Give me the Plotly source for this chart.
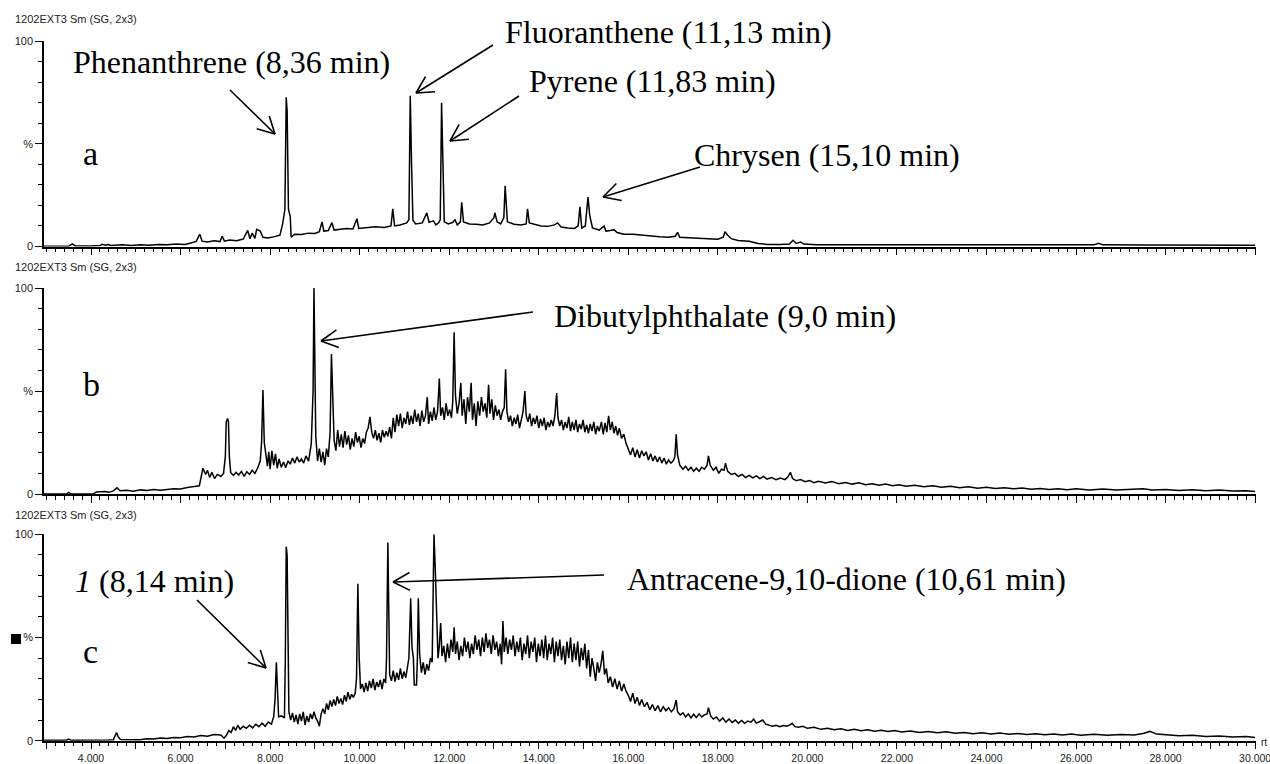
import math
import plotly.graph_objects as go

# ---------------- data ----------------
# panel a: (retention time [min], relative intensity [%])
points_a = [
    (2.95, 0.1), (3.50, 0.1), (3.58, 1.3), (3.65, 0.3), (4.00, 0.3), (4.20, 0.5), (4.25, 1.1),
    (4.32, 0.6), (4.38, 1.0), (4.45, 0.5), (4.70, 0.8), (4.90, 0.5), (5.10, 0.9), (5.30, 0.6),
    (5.50, 1.0), (5.70, 0.8), (5.90, 1.2), (6.10, 1.0), (6.25, 1.8), (6.35, 2.5), (6.43, 6.0),
    (6.48, 2.6), (6.60, 2.2), (6.75, 2.8), (6.88, 2.4), (6.93, 5.0), (6.98, 2.6), (7.10, 3.2),
    (7.25, 2.8), (7.40, 3.6), (7.50, 7.8), (7.55, 3.8), (7.60, 6.5), (7.66, 4.0), (7.70, 8.3),
    (7.78, 7.5), (7.84, 4.5), (7.95, 4.2), (8.10, 4.8), (8.22, 5.5), (8.28, 11.0), (8.33, 18.0),
    (8.36, 72.6), (8.38, 66.0), (8.41, 18.0), (8.45, 14.6), (8.47, 4.5), (8.55, 6.0), (8.70, 5.8),
    (8.85, 6.5), (9.00, 6.3), (9.10, 7.2), (9.16, 12.0), (9.20, 7.5), (9.30, 7.8), (9.38, 11.6),
    (9.43, 8.0), (9.55, 8.2), (9.70, 8.8), (9.85, 8.5), (9.94, 13.5), (9.98, 8.8), (10.15, 9.0),
    (10.35, 9.6), (10.55, 9.3), (10.70, 10.0), (10.74, 18.3), (10.78, 10.0), (10.90, 10.5),
    (11.05, 11.5), (11.10, 13.0), (11.13, 73.4), (11.16, 40.0), (11.19, 12.8), (11.25, 11.0),
    (11.40, 11.5), (11.50, 16.4), (11.55, 11.8), (11.65, 12.5), (11.70, 10.5), (11.76, 11.5),
    (11.80, 13.0), (11.83, 69.9), (11.86, 30.0), (11.89, 12.0), (11.98, 11.0), (12.08, 11.8),
    (12.13, 13.0), (12.18, 10.5), (12.25, 12.0), (12.28, 21.5), (12.32, 12.0), (12.45, 11.0),
    (12.60, 10.8), (12.75, 10.5), (12.90, 11.5), (13.00, 14.0), (13.02, 16.4), (13.07, 12.0),
    (13.15, 11.0), (13.22, 14.0), (13.25, 29.5), (13.30, 12.0), (13.45, 10.8), (13.60, 10.5),
    (13.72, 11.0), (13.75, 18.3), (13.79, 11.5), (13.90, 10.8), (14.05, 10.0), (14.20, 9.8),
    (14.35, 10.5), (14.42, 11.5), (14.50, 9.5), (14.65, 9.0), (14.80, 8.8), (14.88, 10.0),
    (14.92, 19.3), (14.96, 9.0), (15.04, 10.0), (15.10, 24.0), (15.14, 15.0), (15.20, 9.0),
    (15.35, 8.0), (15.46, 10.0), (15.50, 7.5), (15.60, 7.8), (15.68, 8.2), (15.75, 6.8),
    (15.90, 6.0), (16.10, 6.0), (16.30, 5.5), (16.50, 5.0), (16.70, 4.8), (16.90, 4.5),
    (17.05, 5.0), (17.10, 6.9), (17.15, 4.5), (17.35, 4.2), (17.60, 3.8), (17.80, 3.6),
    (18.00, 3.5), (18.12, 4.5), (18.16, 7.2), (18.22, 5.5), (18.30, 3.8), (18.45, 2.9),
    (18.70, 2.5), (18.90, 1.5), (19.10, 1.0), (19.40, 1.0), (19.60, 1.2), (19.68, 3.0),
    (19.75, 1.5), (19.85, 2.2), (19.92, 1.2), (20.20, 0.9), (20.60, 0.9), (21.00, 0.8),
    (22.00, 0.8), (23.00, 0.7), (24.00, 0.7), (25.00, 0.7), (26.00, 0.7), (26.40, 0.8),
    (26.50, 1.6), (26.60, 0.8), (27.50, 0.7), (28.50, 0.7), (30.00, 0.6),
]

points_b = [
    (2.95, 0.0), (3.45, 0.0), (3.50, 0.8), (3.55, 0.0), (4.05, 0.0), (4.12, 1.0), (4.30, 1.2),
    (4.40, 0.8), (4.50, 1.5), (4.58, 3.0), (4.65, 1.6), (4.80, 1.8), (4.95, 1.4), (5.10, 2.0),
    (5.25, 1.7), (5.40, 2.2), (5.55, 1.8), (5.70, 2.3), (5.85, 2.6), (6.00, 2.4), (6.15, 3.2),
    (6.30, 3.6), (6.42, 4.0), (6.50, 12.5), (6.56, 9.5), (6.60, 11.5), (6.65, 8.0), (6.70, 10.5),
    (6.76, 7.5), (6.82, 9.5), (6.90, 8.5), (6.96, 10.0), (7.00, 18.0), (7.02, 35.0), (7.05, 36.7),
    (7.07, 35.0), (7.09, 18.0), (7.12, 10.5), (7.18, 9.0), (7.24, 10.5), (7.30, 9.2), (7.36, 11.0),
    (7.42, 8.5), (7.48, 10.8), (7.54, 9.5), (7.60, 11.5), (7.66, 10.0), (7.72, 12.5), (7.78, 16.0),
    (7.81, 25.0), (7.84, 50.5), (7.87, 25.0), (7.90, 18.5), (7.94, 13.5), (7.97, 20.5), (8.00, 12.0),
    (8.04, 21.0), (8.08, 14.0), (8.12, 19.5), (8.16, 12.5), (8.20, 17.0), (8.25, 13.0), (8.30, 15.5),
    (8.35, 12.8), (8.40, 16.0), (8.45, 14.5), (8.50, 17.5), (8.55, 15.0), (8.60, 18.0), (8.65, 15.5),
    (8.70, 17.0), (8.75, 15.0), (8.80, 18.5), (8.86, 16.0), (8.92, 24.6), (8.96, 50.0), (8.98, 100.0),
    (9.00, 60.0), (9.02, 28.0), (9.06, 16.0), (9.10, 22.0), (9.14, 15.5), (9.18, 20.5), (9.22, 14.0),
    (9.26, 22.0), (9.30, 18.0), (9.34, 30.0), (9.37, 68.0), (9.40, 40.0), (9.43, 26.0), (9.47, 21.0),
    (9.51, 31.0), (9.55, 23.0), (9.59, 29.0), (9.63, 22.5), (9.67, 30.5), (9.71, 24.0), (9.75, 28.5),
    (9.79, 21.5), (9.83, 27.0), (9.87, 23.0), (9.91, 30.0), (9.95, 25.0), (9.99, 28.0), (10.03, 22.5),
    (10.07, 27.0), (10.11, 24.5), (10.15, 30.0), (10.19, 32.0), (10.23, 37.5), (10.27, 30.0),
    (10.31, 27.0), (10.35, 31.0), (10.39, 26.0), (10.43, 29.5), (10.47, 25.0), (10.51, 31.0),
    (10.55, 27.5), (10.59, 30.5), (10.63, 28.0), (10.67, 32.5), (10.71, 27.0), (10.75, 37.0),
    (10.79, 30.0), (10.83, 38.5), (10.87, 33.0), (10.91, 39.0), (10.95, 32.0), (10.99, 37.0),
    (11.03, 34.0), (11.07, 40.0), (11.11, 33.5), (11.15, 38.0), (11.19, 34.0), (11.23, 41.0),
    (11.27, 35.0), (11.31, 39.0), (11.35, 33.0), (11.39, 40.5), (11.43, 35.0), (11.47, 38.0),
    (11.51, 47.0), (11.54, 34.0), (11.58, 40.0), (11.62, 35.5), (11.66, 42.0), (11.70, 36.0),
    (11.74, 40.0), (11.78, 56.0), (11.81, 38.0), (11.85, 42.0), (11.89, 36.0), (11.93, 44.0),
    (11.97, 38.0), (12.01, 41.0), (12.05, 37.0), (12.08, 45.0), (12.11, 78.5), (12.14, 48.0),
    (12.18, 39.0), (12.22, 44.0), (12.26, 54.0), (12.29, 38.0), (12.33, 46.0), (12.37, 34.0),
    (12.41, 47.0), (12.45, 40.0), (12.49, 54.0), (12.52, 36.0), (12.56, 44.0), (12.60, 33.0),
    (12.64, 45.0), (12.68, 38.0), (12.72, 47.0), (12.76, 40.0), (12.80, 44.0), (12.84, 37.0),
    (12.88, 53.0), (12.91, 39.0), (12.95, 46.0), (12.99, 36.0), (13.03, 43.0), (13.07, 38.0),
    (13.11, 41.0), (13.15, 36.0), (13.19, 40.0), (13.23, 42.0), (13.26, 60.5), (13.29, 40.0),
    (13.33, 35.0), (13.37, 38.0), (13.41, 33.0), (13.45, 37.0), (13.49, 34.0), (13.53, 38.5),
    (13.57, 32.0), (13.61, 36.0), (13.65, 40.0), (13.69, 50.0), (13.72, 38.0), (13.76, 35.0),
    (13.80, 39.0), (13.84, 33.0), (13.88, 37.0), (13.92, 34.0), (13.96, 38.0), (14.00, 32.0),
    (14.04, 36.5), (14.08, 33.0), (14.12, 37.0), (14.16, 31.0), (14.20, 35.0), (14.24, 32.5),
    (14.28, 36.0), (14.32, 33.0), (14.36, 38.0), (14.40, 49.0), (14.43, 37.0), (14.47, 33.0),
    (14.51, 36.0), (14.55, 31.0), (14.59, 35.0), (14.63, 32.0), (14.67, 37.5), (14.71, 30.5),
    (14.75, 35.0), (14.79, 31.0), (14.83, 36.0), (14.87, 30.0), (14.91, 34.0), (14.95, 31.5),
    (14.99, 36.0), (15.03, 30.0), (15.07, 33.5), (15.11, 29.5), (15.15, 34.0), (15.19, 30.5),
    (15.23, 35.0), (15.27, 29.0), (15.31, 33.0), (15.35, 30.5), (15.40, 35.0), (15.44, 29.0),
    (15.48, 34.5), (15.52, 30.0), (15.56, 38.0), (15.60, 31.0), (15.64, 35.0), (15.68, 29.5),
    (15.72, 33.0), (15.76, 28.5), (15.80, 32.0), (15.85, 27.0), (15.90, 29.0), (15.95, 24.6),
    (16.00, 22.0), (16.05, 19.0), (16.10, 22.5), (16.15, 18.0), (16.20, 21.5), (16.25, 17.5),
    (16.30, 21.0), (16.35, 18.5), (16.40, 20.5), (16.45, 16.5), (16.50, 19.5), (16.55, 16.0),
    (16.60, 18.5), (16.65, 15.5), (16.70, 18.0), (16.75, 15.0), (16.80, 17.5), (16.85, 14.5),
    (16.90, 16.5), (16.95, 15.0), (17.00, 16.0), (17.04, 18.0), (17.07, 29.0), (17.10, 19.0),
    (17.15, 14.0), (17.22, 12.0), (17.28, 13.5), (17.34, 11.5), (17.40, 13.0), (17.46, 11.0),
    (17.52, 12.5), (17.58, 11.0), (17.64, 13.0), (17.70, 12.0), (17.76, 14.0), (17.79, 18.5),
    (17.83, 14.0), (17.90, 11.5), (17.96, 13.0), (18.02, 10.0), (18.08, 12.0), (18.14, 11.5),
    (18.17, 15.0), (18.22, 11.0), (18.30, 9.5), (18.38, 10.0), (18.46, 8.5), (18.54, 9.5),
    (18.62, 8.0), (18.70, 9.0), (18.78, 7.8), (18.86, 8.8), (18.94, 7.5), (19.02, 8.5),
    (19.10, 7.2), (19.20, 8.0), (19.30, 7.0), (19.40, 7.8), (19.50, 7.0), (19.57, 8.5),
    (19.62, 10.5), (19.67, 7.5), (19.75, 6.5), (19.85, 7.0), (19.95, 6.0), (20.05, 6.5),
    (20.15, 5.5), (20.25, 6.2), (20.40, 5.3), (20.55, 6.0), (20.70, 5.0), (20.85, 5.6),
    (21.00, 4.8), (21.15, 5.4), (21.30, 4.5), (21.45, 5.0), (21.60, 4.3), (21.75, 4.9),
    (21.90, 4.0), (22.05, 4.5), (22.20, 3.8), (22.40, 4.3), (22.60, 3.5), (22.80, 4.0),
    (23.00, 3.3), (23.20, 3.8), (23.40, 3.0), (23.60, 3.5), (23.80, 2.8), (24.00, 3.3),
    (24.20, 2.7), (24.40, 3.0), (24.60, 2.5), (24.80, 2.9), (25.00, 2.3), (25.20, 2.7),
    (25.40, 2.2), (25.60, 2.6), (25.80, 2.1), (26.00, 2.5), (26.30, 2.0), (26.60, 2.4),
    (26.90, 1.9), (27.20, 2.3), (27.50, 2.6), (27.70, 2.0), (28.00, 2.2), (28.30, 1.7),
    (28.60, 2.1), (28.90, 1.6), (29.20, 1.9), (29.50, 1.4), (29.80, 1.6), (30.00, 1.2),
]

points_c = [
    (2.95, 0.2), (3.45, 0.2), (3.50, 0.8), (3.55, 0.2), (4.40, 0.3), (4.50, 0.5), (4.54, 2.5),
    (4.57, 3.9), (4.61, 1.8), (4.66, 0.6), (4.90, 0.4), (5.10, 0.5), (5.25, 1.0), (5.40, 0.8),
    (5.55, 1.3), (5.70, 1.1), (5.85, 1.6), (6.00, 1.4), (6.15, 2.0), (6.30, 1.8), (6.45, 2.5),
    (6.60, 2.2), (6.75, 3.0), (6.90, 2.8), (6.97, 1.2), (7.02, 2.5), (7.08, 5.0), (7.13, 4.0),
    (7.18, 6.8), (7.23, 5.0), (7.28, 7.5), (7.33, 5.5), (7.40, 7.0), (7.47, 6.0), (7.54, 7.5),
    (7.61, 6.2), (7.68, 8.0), (7.75, 6.8), (7.82, 8.5), (7.89, 7.0), (7.96, 9.0), (8.03, 8.0),
    (8.08, 11.6), (8.11, 20.0), (8.14, 38.0), (8.16, 25.0), (8.19, 11.6), (8.26, 12.0), (8.32, 11.0),
    (8.34, 40.0), (8.36, 94.0), (8.38, 90.0), (8.40, 45.0), (8.42, 14.0), (8.46, 10.0), (8.50, 13.5),
    (8.54, 9.0), (8.58, 12.5), (8.62, 8.0), (8.66, 13.0), (8.70, 9.5), (8.74, 14.0), (8.78, 7.6),
    (8.82, 12.0), (8.86, 9.0), (8.90, 13.0), (8.94, 10.5), (8.98, 14.0), (9.02, 11.0), (9.06, 9.5),
    (9.10, 7.0), (9.14, 13.0), (9.18, 15.5), (9.22, 13.0), (9.26, 18.0), (9.30, 15.0), (9.34, 19.5),
    (9.38, 16.5), (9.42, 20.0), (9.46, 17.0), (9.50, 21.5), (9.54, 18.0), (9.58, 20.5), (9.62, 17.5),
    (9.66, 22.0), (9.70, 19.0), (9.74, 23.5), (9.78, 20.0), (9.82, 22.5), (9.86, 21.0), (9.90, 23.0),
    (9.93, 30.0), (9.96, 76.0), (9.99, 40.0), (10.02, 25.0), (10.06, 27.5), (10.10, 23.5),
    (10.14, 28.0), (10.18, 24.0), (10.22, 29.0), (10.26, 25.5), (10.30, 30.0), (10.34, 24.5),
    (10.38, 28.5), (10.42, 26.0), (10.46, 29.5), (10.50, 25.0), (10.54, 30.0), (10.58, 28.0),
    (10.60, 40.0), (10.63, 96.0), (10.65, 60.0), (10.67, 32.0), (10.71, 29.0), (10.75, 34.0),
    (10.79, 28.6), (10.83, 33.0), (10.87, 29.5), (10.91, 35.0), (10.95, 30.0), (10.99, 33.5),
    (11.03, 30.5), (11.07, 35.0), (11.10, 40.0), (11.14, 69.0), (11.17, 45.0), (11.20, 40.0),
    (11.22, 27.0), (11.27, 27.0), (11.29, 40.0), (11.31, 69.0), (11.34, 42.0), (11.38, 33.0),
    (11.42, 38.0), (11.46, 32.0), (11.50, 37.0), (11.54, 34.0), (11.58, 40.0), (11.62, 38.0),
    (11.66, 100.0), (11.69, 82.7), (11.72, 55.0), (11.75, 40.0), (11.78, 46.0), (11.81, 57.0),
    (11.84, 41.0), (11.88, 46.0), (11.92, 38.0), (11.96, 47.0), (12.00, 40.0), (12.04, 49.0),
    (12.08, 43.0), (12.11, 55.0), (12.14, 42.0), (12.18, 48.0), (12.22, 39.0), (12.26, 46.0),
    (12.30, 41.0), (12.34, 50.0), (12.38, 43.0), (12.42, 48.0), (12.46, 40.0), (12.50, 47.0),
    (12.54, 42.0), (12.58, 51.0), (12.62, 44.0), (12.66, 49.0), (12.70, 41.0), (12.74, 50.0),
    (12.78, 43.0), (12.82, 52.0), (12.86, 45.0), (12.90, 49.0), (12.94, 42.0), (12.98, 51.0),
    (13.02, 44.0), (13.06, 48.0), (13.10, 41.0), (13.14, 47.0), (13.17, 37.0), (13.20, 58.0),
    (13.23, 43.0), (13.27, 50.0), (13.31, 42.0), (13.35, 49.0), (13.39, 44.0), (13.43, 51.0),
    (13.47, 41.0), (13.51, 48.0), (13.55, 43.0), (13.59, 50.0), (13.63, 39.0), (13.67, 47.0),
    (13.71, 42.0), (13.75, 51.0), (13.79, 40.0), (13.83, 48.0), (13.87, 43.0), (13.91, 50.0),
    (13.95, 38.0), (13.99, 47.0), (14.03, 41.0), (14.07, 49.0), (14.11, 40.0), (14.15, 51.0),
    (14.19, 39.0), (14.23, 47.0), (14.27, 42.0), (14.31, 50.0), (14.35, 38.0), (14.39, 48.0),
    (14.43, 41.0), (14.47, 49.0), (14.51, 39.0), (14.55, 46.0), (14.59, 37.0), (14.63, 48.0),
    (14.67, 40.0), (14.71, 50.0), (14.75, 38.0), (14.79, 47.0), (14.83, 39.0), (14.87, 48.0),
    (14.91, 36.0), (14.95, 45.0), (14.99, 39.0), (15.03, 47.0), (15.07, 35.0), (15.11, 44.0),
    (15.15, 31.0), (15.19, 40.0), (15.23, 35.0), (15.27, 29.0), (15.31, 38.0), (15.35, 33.0),
    (15.39, 37.0), (15.43, 43.5), (15.47, 32.0), (15.51, 35.0), (15.55, 28.0), (15.60, 31.0),
    (15.65, 26.0), (15.70, 30.0), (15.75, 25.0), (15.80, 29.0), (15.85, 24.0), (15.90, 27.5),
    (15.95, 24.0), (16.00, 22.0), (16.05, 19.0), (16.10, 23.0), (16.15, 18.0), (16.20, 21.0),
    (16.25, 17.0), (16.30, 20.0), (16.36, 16.5), (16.42, 18.5), (16.48, 15.0), (16.54, 17.5),
    (16.60, 14.5), (16.66, 17.0), (16.72, 14.0), (16.78, 16.5), (16.84, 14.5), (16.90, 16.0),
    (16.96, 14.0), (17.02, 15.5), (17.07, 19.7), (17.10, 14.0), (17.16, 12.5), (17.22, 13.5),
    (17.28, 11.5), (17.34, 13.0), (17.40, 11.0), (17.46, 12.8), (17.52, 11.2), (17.58, 13.0),
    (17.64, 11.5), (17.70, 12.5), (17.76, 13.0), (17.79, 16.0), (17.84, 12.0), (17.90, 10.5),
    (17.97, 11.5), (18.04, 9.5), (18.11, 11.0), (18.18, 9.0), (18.25, 10.5), (18.32, 8.8),
    (18.39, 10.0), (18.46, 8.5), (18.53, 9.8), (18.60, 8.4), (18.67, 9.5), (18.74, 9.0),
    (18.80, 10.5), (18.86, 8.5), (18.93, 9.2), (19.00, 10.0), (19.07, 8.0), (19.14, 7.5),
    (19.22, 7.0), (19.30, 7.5), (19.38, 6.8), (19.46, 7.3), (19.54, 7.0), (19.62, 7.8),
    (19.66, 8.4), (19.72, 6.8), (19.80, 6.5), (19.90, 7.0), (20.00, 6.0), (20.15, 6.5),
    (20.30, 5.5), (20.45, 6.0), (20.60, 5.3), (20.75, 5.8), (20.90, 5.0), (21.05, 5.5),
    (21.20, 4.8), (21.35, 5.3), (21.50, 4.6), (21.65, 5.0), (21.80, 4.5), (21.95, 4.9),
    (22.10, 4.2), (22.30, 4.7), (22.50, 4.0), (22.70, 4.5), (22.90, 3.8), (23.10, 4.3),
    (23.30, 3.6), (23.50, 4.0), (23.70, 3.4), (23.90, 3.9), (24.10, 3.3), (24.30, 3.7),
    (24.50, 3.1), (24.70, 3.5), (24.90, 3.0), (25.10, 3.4), (25.30, 2.9), (25.50, 3.3),
    (25.70, 2.8), (25.90, 3.2), (26.10, 2.7), (26.40, 3.1), (26.70, 2.6), (27.00, 3.0),
    (27.30, 2.8), (27.50, 3.5), (27.65, 4.5), (27.80, 3.2), (28.00, 2.8), (28.30, 2.4),
    (28.60, 2.7), (28.90, 2.0), (29.20, 2.3), (29.50, 1.8), (29.80, 2.0), (30.00, 1.6),
]

panel_letters = ["a", "b", "c"]
panel_title = "1202EXT3 Sm (SG, 2x3)"
x_major = list(range(3, 31))
x_labels = [f"{v}.000" if (v % 2 == 0 and v >= 4) else "" for v in x_major]
y_ticks = [0, 50, 100]
y_labels = ["0", "%", "100"]

# compound labels: (text, left px, centre-y px)
label_texts = [
    ("Phenanthrene (8,36 min)", 71, 62),
    ("Fluoranthene (11,13 min)", 503, 32),
    ("Pyrene (11,83 min)", 527, 81),
    ("Chrysen (15,10 min)", 692, 155),
    ("Dibutylphthalate (9,0 min)", 552, 316),
    ("<i>1</i> (8,14 min)", 73, 581),
    ("Antracene-9,10-dione (10,61 min)", 625, 579),
]
# arrows: (tail px, tip px)
arrows = [
    ((230, 90), (275, 134)),
    ((493, 45), (416, 93)),
    ((519, 96), (450, 141)),
    ((700, 167), (603, 197)),
    ((533, 312), (321, 341)),
    ((197, 600), (266, 668)),
    ((604, 575), (393, 582)),
]

# ---------------- layout geometry ----------------
W, H = 1270, 764
ML, MR = 44, 14
PW = W - ML - MR


def fx(px):
    return (px - ML) / PW


def fy(py):
    return (H - py) / H


# panel (y of 0 %, y of 100 %) in px
panel_px = [(246.5, 41.0), (494.0, 288.0), (740.7, 534.3)]
title_y = [19.5, 267, 514.5]
letter_y = [153, 384, 651]

SANS = "Liberation Sans, Arial, sans-serif"
SERIF = "Liberation Serif, Times New Roman, serif"

fig = go.Figure()
for i, pts in enumerate([points_a, points_b, points_c]):
    suffix = "" if i == 0 else str(i + 1)
    fig.add_trace(go.Scatter(
        x=[p[0] for p in pts], y=[p[1] for p in pts],
        mode="lines", line=dict(color="black", width=1.5),
        xaxis="x" + suffix, yaxis="y" + suffix, showlegend=False, hoverinfo="skip",
    ))

layout = dict(
    width=W, height=H, margin=dict(l=ML, r=MR, t=0, b=0),
    paper_bgcolor="white", plot_bgcolor="white", showlegend=False,
)
for i, (y0, y100) in enumerate(panel_px):
    suffix = "" if i == 0 else str(i + 1)
    layout["xaxis" + suffix] = dict(
        domain=[0, 1], range=[2.95, 30.02], anchor="y" + suffix,
        showline=True, linecolor="black", linewidth=1.5, showgrid=False, zeroline=False,
        ticks="outside", ticklen=7, tickwidth=1, tickcolor="black",
        tickmode="array", tickvals=x_major, ticktext=x_labels,
        showticklabels=(i == 2), automargin=False, ticklabeloverflow="allow",
        tickfont=dict(family=SANS, size=10.5, color="#222"),
        minor=dict(ticks="outside", ticklen=4, tickwidth=1, tickcolor="black",
                   dtick=0.2, tick0=0, showgrid=False),
    )
    layout["yaxis" + suffix] = dict(
        domain=[fy(y0), fy(y100)], range=[0, 100], anchor="x" + suffix,
        showline=True, linecolor="black", linewidth=1.5, showgrid=False, zeroline=False,
        ticks="outside", ticklen=7, tickwidth=1, tickcolor="black",
        tickmode="array", tickvals=y_ticks, ticktext=y_labels, automargin=False,
        tickfont=dict(family=SANS, size=11, color="#222"),
        minor=dict(ticks="outside", ticklen=4, tickwidth=1, tickcolor="black",
                   dtick=10, tick0=0, showgrid=False),
    )
fig.update_layout(**layout)

annotations = []
for i in range(3):
    annotations.append(dict(
        text=panel_title, xref="paper", yref="paper", x=fx(13), y=fy(title_y[i]),
        xanchor="left", yanchor="middle", showarrow=False,
        font=dict(family=SANS, size=11, color="#222"),
    ))
    annotations.append(dict(
        text=panel_letters[i], xref="paper", yref="paper", x=fx(81), y=fy(letter_y[i]),
        xanchor="left", yanchor="middle", showarrow=False,
        font=dict(family=SERIF, size=34, color="black"),
    ))
for text, lx, cy in label_texts:
    annotations.append(dict(
        text=text, xref="paper", yref="paper", x=fx(lx), y=fy(cy),
        xanchor="left", yanchor="middle", showarrow=False,
        font=dict(family=SERIF, size=32, color="black"),
    ))
annotations.append(dict(
    text="rt", xref="paper", yref="paper", x=fx(1259), y=fy(742),
    xanchor="left", yanchor="middle", showarrow=False,
    font=dict(family=SANS, size=10, color="#222"),
))

shapes = []
ARM, ANG = 19, math.radians(28)
for (tx, ty), (hx, hy) in arrows:
    shapes.append(dict(type="line", xref="paper", yref="paper",
                       x0=fx(tx), y0=fy(ty), x1=fx(hx), y1=fy(hy),
                       line=dict(color="black", width=1.6)))
    dx, dy = tx - hx, ty - hy
    d = math.hypot(dx, dy)
    ux, uy = dx / d, dy / d
    for s in (1, -1):
        c, sn = math.cos(s * ANG), math.sin(s * ANG)
        ex = hx + ARM * (ux * c - uy * sn)
        ey = hy + ARM * (ux * sn + uy * c)
        shapes.append(dict(type="line", xref="paper", yref="paper",
                           x0=fx(hx), y0=fy(hy), x1=fx(ex), y1=fy(ey),
                           line=dict(color="black", width=1.6)))
# small black square marker beside panel c
shapes.append(dict(type="rect", xref="paper", yref="paper",
                   x0=fx(11), x1=fx(21), y0=fy(644), y1=fy(634),
                   fillcolor="black", line=dict(width=0)))

fig.update_layout(annotations=annotations, shapes=shapes)
fig.write_html(
    "out.html",
    config={"displayModeBar": False},
    post_script="document.body.style.margin='0';document.body.style.overflow='hidden';",
)
